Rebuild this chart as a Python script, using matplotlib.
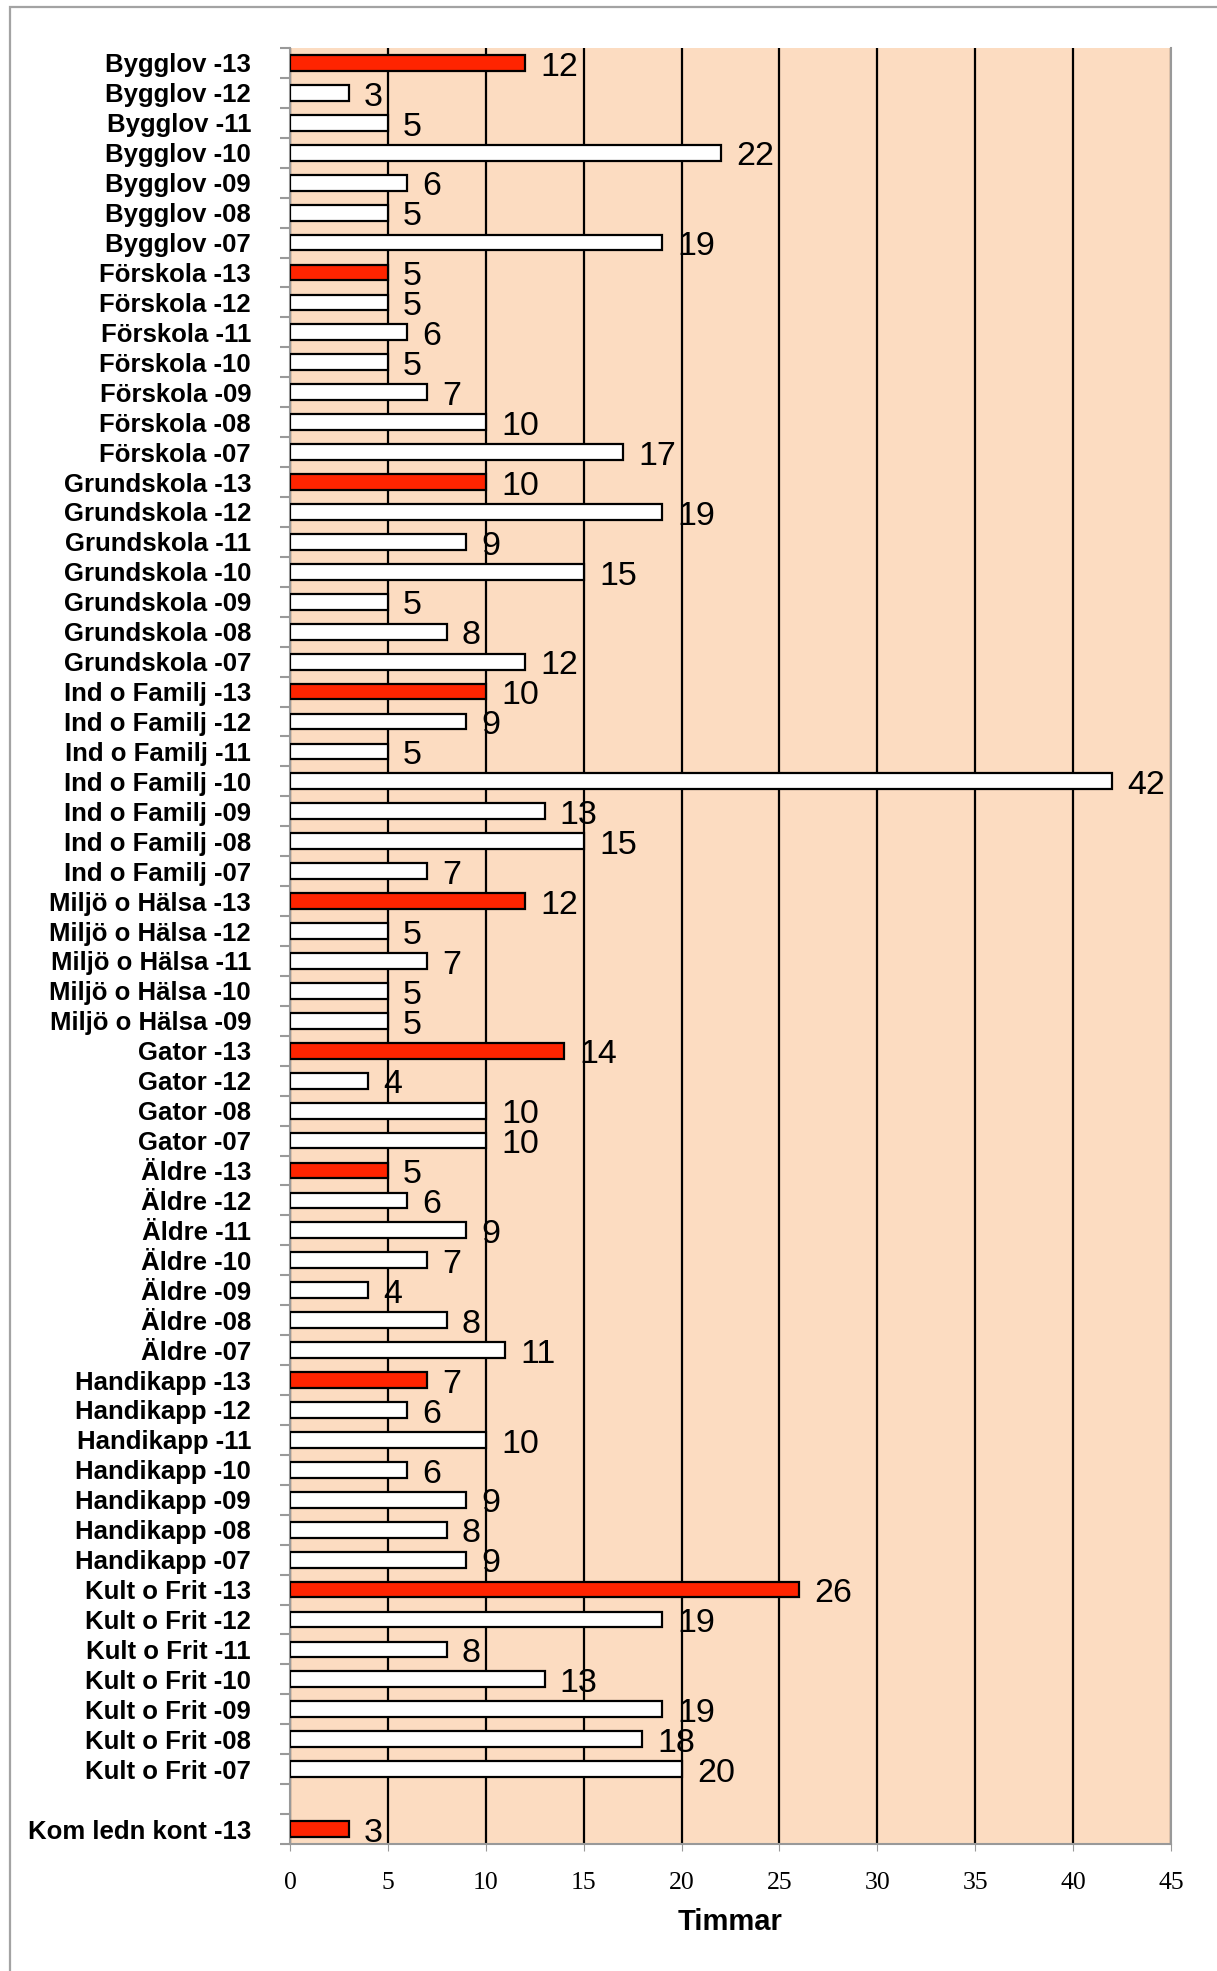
import matplotlib.pyplot as plt
import numpy as np
from matplotlib.patches import Rectangle

# Timmar per förvaltning och år
labels = [
    "Bygglov -13", "Bygglov -12", "Bygglov -11", "Bygglov -10", "Bygglov -09", "Bygglov -08", "Bygglov -07",
    "Förskola -13", "Förskola -12", "Förskola -11", "Förskola -10", "Förskola -09", "Förskola -08", "Förskola -07",
    "Grundskola -13", "Grundskola -12", "Grundskola -11", "Grundskola -10", "Grundskola -09", "Grundskola -08", "Grundskola -07",
    "Ind o Familj -13", "Ind o Familj -12", "Ind o Familj -11", "Ind o Familj -10", "Ind o Familj -09", "Ind o Familj -08", "Ind o Familj -07",
    "Miljö o Hälsa -13", "Miljö o Hälsa -12", "Miljö o Hälsa -11", "Miljö o Hälsa -10", "Miljö o Hälsa -09",
    "Gator -13", "Gator -12", "Gator -08", "Gator -07",
    "Äldre -13", "Äldre -12", "Äldre -11", "Äldre -10", "Äldre -09", "Äldre -08", "Äldre -07",
    "Handikapp -13", "Handikapp -12", "Handikapp -11", "Handikapp -10", "Handikapp -09", "Handikapp -08", "Handikapp -07",
    "Kult o Frit -13", "Kult o Frit -12", "Kult o Frit -11", "Kult o Frit -10", "Kult o Frit -09", "Kult o Frit -08", "Kult o Frit -07",
    "",
    "Kom ledn kont -13",
]
timmar = [
    12, 3, 5, 22, 6, 5, 19,
    5, 5, 6, 5, 7, 10, 17,
    10, 19, 9, 15, 5, 8, 12,
    10, 9, 5, 42, 13, 15, 7,
    12, 5, 7, 5, 5,
    14, 4, 10, 10,
    5, 6, 9, 7, 4, 8, 11,
    7, 6, 10, 6, 9, 8, 9,
    26, 19, 8, 13, 19, 18, 20,
    None,
    3,
]
xticks = [0, 5, 10, 15, 20, 25, 30, 35, 40, 45]

BG = "#FCDCC1"
RED = "#FF2400"

fig = plt.figure(figsize=(12.17, 19.71), dpi=100)
fig.patches.append(Rectangle((10 / 1217, -0.01), 1.1, 1.01 - 7 / 1971, transform=fig.transFigure,
                             fill=False, edgecolor="#a3a3a3", linewidth=1.6))

ax = fig.add_axes([290 / 1217, 1 - 1844 / 1971, 881 / 1217, 1796 / 1971])
ax.set_facecolor(BG)

pos = np.arange(len(labels))
for i, (lab, v) in enumerate(zip(labels, timmar)):
    if v is None:
        continue
    col = RED if lab.endswith("-13") else "white"
    ax.barh(i, v, height=0.53, color=col, edgecolor="black", linewidth=1.6, zorder=3)
    ax.annotate(str(v), (v, i), xytext=(11, -3), textcoords="offset points",
                ha="left", va="center", fontsize=24.5,
                family=["Liberation Sans Narrow", "Liberation Sans"], zorder=4)

ax.set_xlim(0, 45)
ax.set_ylim(len(labels) - 0.5, -0.5)

ax.set_xticks(xticks)
ax.set_xticklabels([str(t) for t in xticks], family="Liberation Serif", fontsize=18.5)
ax.tick_params(axis="x", length=5, color="#999999", pad=15)
ax.grid(axis="x", color="black", linewidth=1.6, zorder=1)
ax.set_axisbelow(True)

ax.set_yticks(pos)
ax.set_yticklabels(labels, fontsize=18.5, fontweight="bold", family="Liberation Sans")
ax.tick_params(axis="y", length=0, pad=28)
ax.set_yticks(np.arange(len(labels) + 1) - 0.5, minor=True)
ax.tick_params(axis="y", which="minor", length=7, color="#999999", width=1.5)

ax.spines["top"].set_visible(False)
for s in ["left", "bottom", "right"]:
    ax.spines[s].set_color("#999999")
    ax.spines[s].set_linewidth(1.5)

ax.set_xlabel("Timmar", fontsize=21, fontweight="bold", family="Liberation Sans", labelpad=10)

fig.savefig("out.png", dpi=100)
